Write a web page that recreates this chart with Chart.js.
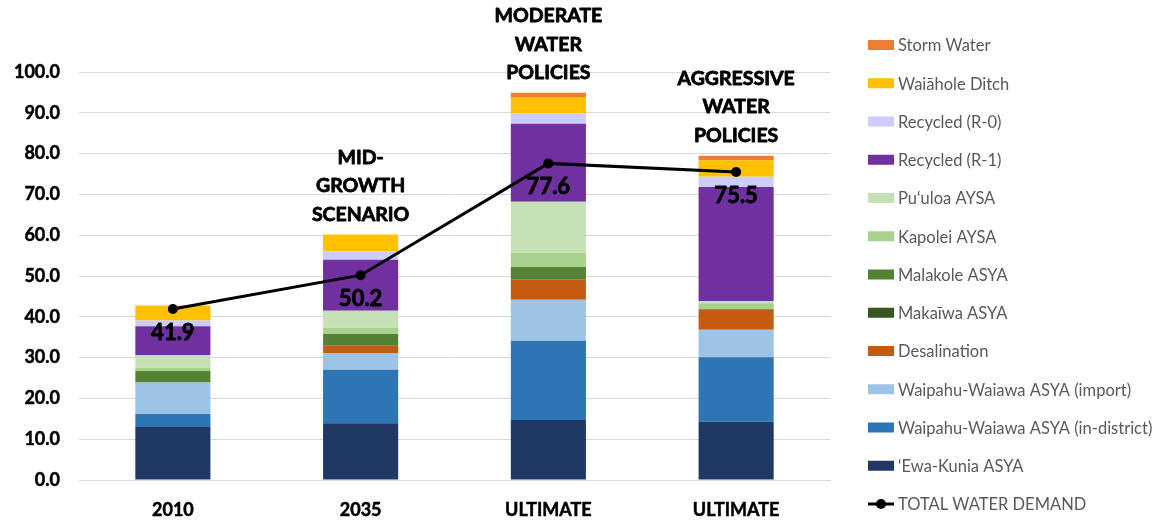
<!DOCTYPE html>
<html>
<head>
<meta charset="utf-8">
<script src="https://cdn.jsdelivr.net/npm/chart.js@4/dist/chart.umd.min.js"></script>
<style>
  html, body { margin: 0; padding: 0; background: #fff; }
  #wrap { width: 1171px; height: 520px; }
</style>
</head>
<body>
<div id="wrap"><canvas id="demandChart" width="1171" height="520"></canvas></div>
<script>
// categories and scenario headings
const categories = ['2010', '2035', 'ULTIMATE', 'ULTIMATE'];
const scenarioNotes = [
  [],
  ['MID-', 'GROWTH', 'SCENARIO'],
  ['MODERATE', 'WATER', 'POLICIES'],
  ['AGGRESSIVE', 'WATER', 'POLICIES']
];

// supply sources (mgd), bottom of the stack first
const ewaKunia        = [13.0, 13.9, 14.7, 14.3];
const waipahuInDist   = [3.2, 13.1, 19.4, 15.8];
const waipahuImport   = [7.7, 4.1, 10.1, 6.7];
const desalination    = [0.0, 1.8, 5.0, 4.9];
const makaiwa         = [0.0, 0.0, 0.0, 0.0];
const malakole        = [2.8, 2.9, 3.0, 0.2];
const kapolei         = [0.8, 1.5, 3.5, 1.4];
const puuloa          = [3.1, 4.2, 12.5, 0.6];
const recycledR1      = [7.1, 12.5, 19.1, 27.9];
const recycledR0      = [1.4, 2.0, 2.5, 2.5];
const waiaholeDitch   = [3.7, 4.2, 4.1, 4.1];
const stormWater      = [0.0, 0.0, 1.0, 1.1];

// total demand line
const totalDemand = [41.9, 50.2, 77.6, 75.5];

const yTicks = { min: 0, max: 100, step: 10 };

const FONT = 'Lato, "Open Sans", sans-serif';

function barSet(label, data, color) {
  return {
    type: 'bar', label: label, data: data,
    backgroundColor: color, borderWidth: 0, order: 1,
    barPercentage: 0.4, categoryPercentage: 1.0
  };
}

const datasets = [
  {
    type: 'line', label: 'TOTAL WATER DEMAND', data: totalDemand,
    borderColor: '#000', backgroundColor: '#000', borderWidth: 3,
    pointRadius: 5, pointBackgroundColor: '#000', pointBorderWidth: 0,
    tension: 0, order: 0
  },
  barSet('\u2018Ewa-Kunia ASYA', ewaKunia, '#203864'),
  barSet('Waipahu-Waiawa ASYA (in-district)', waipahuInDist, '#2E75B6'),
  barSet('Waipahu-Waiawa ASYA (import)', waipahuImport, '#9DC3E6'),
  barSet('Desalination', desalination, '#C55A11'),
  barSet('Maka\u012Bwa ASYA', makaiwa, '#375623'),
  barSet('Malakole ASYA', malakole, '#548235'),
  barSet('Kapolei AYSA', kapolei, '#A9D18E'),
  barSet('Pu\u2018uloa AYSA', puuloa, '#C5E0B4'),
  barSet('Recycled (R-1)', recycledR1, '#7030A0'),
  barSet('Recycled (R-0)', recycledR0, '#CCCCFF'),
  barSet('Wai\u0101hole Ditch', waiaholeDitch, '#FFC000'),
  barSet('Storm Water', stormWater, '#ED7D31')
];

// legend on the right, top item = top of stack, line last
const sideLegend = {
  id: 'sideLegend',
  afterDraw(chart) {
    const ctx = chart.ctx;
    const ds = chart.data.datasets;
    const items = ds.filter(d => d.type === 'bar').reverse().concat(ds.filter(d => d.type === 'line'));
    const x0 = 868, y0 = 45, gap = 38.25;
    ctx.save();
    ctx.font = '16.5px ' + FONT;
    ctx.textBaseline = 'middle';
    items.forEach((d, i) => {
      const y = y0 + i * gap;
      if (d.type === 'line') {
        ctx.strokeStyle = d.borderColor;
        ctx.lineWidth = 3;
        ctx.beginPath(); ctx.moveTo(x0, y); ctx.lineTo(x0 + 26, y); ctx.stroke();
        ctx.fillStyle = d.borderColor;
        ctx.beginPath(); ctx.arc(x0 + 13, y, 5, 0, Math.PI * 2); ctx.fill();
      } else {
        ctx.fillStyle = d.backgroundColor;
        ctx.fillRect(x0, y - 5, 26, 10);
      }
      ctx.fillStyle = '#595959';
      ctx.fillText(d.label, x0 + 30, y + 1);
    });
    ctx.restore();
  }
};

// heavy black text: fill plus a thin stroke of the same colour
function heavyText(ctx, t, x, y) {
  ctx.fillText(t, x, y);
  ctx.strokeText(t, x, y);
}

// totals under each point and scenario headings above each stack
const annotate = {
  id: 'annotate',
  afterDatasetsDraw(chart) {
    const ctx = chart.ctx;
    const ds = chart.data.datasets;
    const lineIdx = ds.findIndex(d => d.type === 'line');
    const topIdx = ds.length - 1;
    const points = chart.getDatasetMeta(lineIdx).data;
    const tops = chart.getDatasetMeta(topIdx).data;
    ctx.save();
    ctx.textAlign = 'center';
    ctx.textBaseline = 'middle';
    ctx.fillStyle = '#000';
    ctx.strokeStyle = '#000';
    ctx.lineWidth = 0.8;
    ctx.lineJoin = 'round';
    ctx.font = 'bold 22px ' + FONT;
    points.forEach((p, i) => {
      heavyText(ctx, ds[lineIdx].data[i].toFixed(1), p.x, p.y + 24);
    });
    ctx.font = 'bold 19.5px ' + FONT;
    tops.forEach((bar, i) => {
      const lines = scenarioNotes[i];
      const n = lines.length;
      lines.forEach((t, k) => {
        heavyText(ctx, t, bar.x, bar.y - 20 - (n - 1 - k) * 28.5);
      });
    });
    ctx.restore();
  }
};

new Chart(document.getElementById('demandChart'), {
  data: { labels: categories, datasets: datasets },
  options: {
    responsive: false,
    animation: false,
    layout: { padding: { left: 0, top: 72, right: 341, bottom: 0 } },
    plugins: {
      legend: { display: false },
      tooltip: { enabled: false }
    },
    scales: {
      x: {
        stacked: true,
        grid: { display: false, drawTicks: false },
        border: { color: '#d9d9d9' },
        ticks: {
          color: '#000', font: { family: FONT, size: 18, weight: 'bold' }, padding: 19,
          textStrokeColor: '#000', textStrokeWidth: 0.5
        },
        afterFit(scale) { scale.height = 40; }
      },
      y: {
        stacked: true,
        min: yTicks.min, max: yTicks.max,
        grid: { color: '#d9d9d9', drawTicks: false },
        border: { display: false },
        ticks: {
          stepSize: yTicks.step, padding: 19, color: '#000',
          font: { family: FONT, size: 18, weight: 'bold' },
          textStrokeColor: '#000', textStrokeWidth: 0.5,
          callback: v => v.toFixed(1)
        },
        afterFit(scale) { scale.width = 79; }
      }
    }
  },
  plugins: [annotate, sideLegend]
});
</script>
</body>
</html>
